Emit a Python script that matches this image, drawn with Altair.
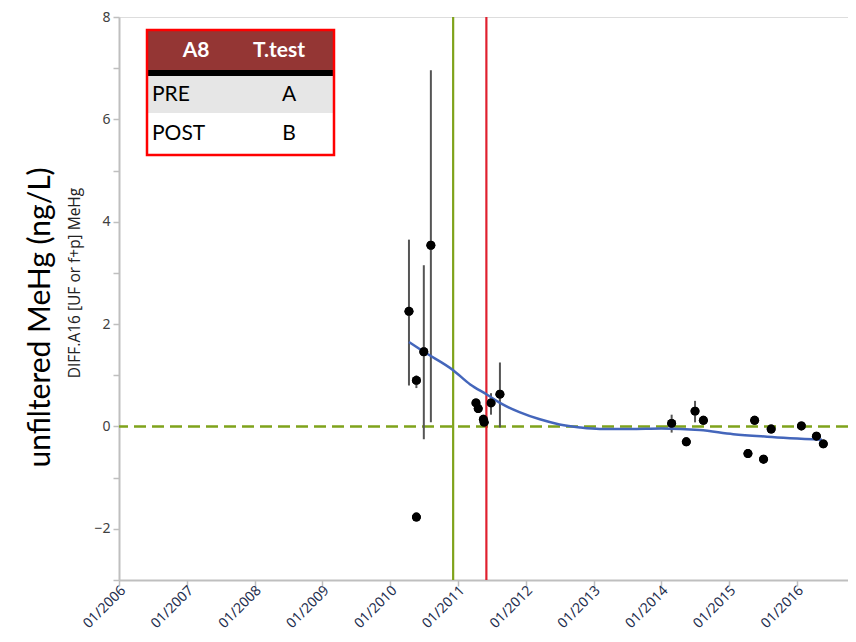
import altair as alt
import pandas as pd

# ---- data ----
pt_dates = ["2010-04-12", "2010-05-22", "2010-05-22", "2010-07-01", "2010-08-08",
            "2011-04-08", "2011-04-20", "2011-05-18", "2011-05-22", "2011-06-28",
            "2011-08-15", "2014-02-25", "2014-05-15", "2014-07-01", "2014-08-15",
            "2015-04-12", "2015-05-18", "2015-07-05", "2015-08-15", "2016-01-25",
            "2016-04-15", "2016-05-22"]
pt_values = [2.25, 0.90, -1.77, 1.46, 3.54,
             0.46, 0.35, 0.14, 0.08, 0.46,
             0.63, 0.06, -0.30, 0.30, 0.12,
             -0.53, 0.12, -0.64, -0.05, 0.01,
             -0.19, -0.34]

err_dates = ["2010-04-12", "2010-05-22", "2010-07-01", "2010-08-08",
             "2011-06-28", "2011-08-15", "2014-02-25", "2014-07-01"]
err_low = [0.80, 0.75, -0.25, 0.08, 0.23, -0.02, -0.12, 0.08]
err_high = [3.65, 1.00, 3.15, 6.96, 0.65, 1.25, 0.23, 0.50]

fit_dates = ["2010-04-12", "2010-07-01", "2010-12-06", "2011-03-08", "2011-06-07",
             "2011-08-15", "2011-11-28", "2012-03-17", "2012-07-01", "2012-10-19",
             "2013-02-03", "2013-07-16", "2014-01-01", "2014-07-27", "2015-01-23",
             "2015-07-24", "2016-05-15"]
fit_values = [1.65, 1.46, 1.10, 0.82, 0.62,
              0.46, 0.28, 0.14, 0.04, -0.02,
              -0.05, -0.05, -0.04, -0.07, -0.15,
              -0.20, -0.26]

vline_dates = ["2010-12-06", "2011-06-03"]
vline_colors = ["#7fa31b", "#e0202f"]

x_tick_years = list(range(2006, 2017))
y_tick_values = list(range(-3, 9))

table_header = ["A8", "T.test"]
table_rows = [["PRE", "A"], ["POST", "B"]]

y_title = "unfiltered MeHg (ng/L)"
y_subtitle = "DIFF.A16 [UF or f+p] MeHg"

# ---- frames ----
pts = pd.DataFrame({"date": pt_dates, "value": pt_values})
errs = pd.DataFrame({"date": err_dates, "lo": err_low, "hi": err_high})
fit = pd.DataFrame({"date": fit_dates, "value": fit_values})
vl = pd.DataFrame({"date": vline_dates, "color": vline_colors})
one = pd.DataFrame({"k": [0]})

TOP = 9
W, H = 729, 563

xscale = alt.Scale(domain=[alt.DateTime(year=2006, month=1, date=1),
                           alt.DateTime(year=2016, month=10, date=2)])
yscale = alt.Scale(domain=[-3, 8], nice=False, zero=False)

xenc = alt.X(
    "date:T", scale=xscale, title=None,
    axis=alt.Axis(
        values=[alt.DateTime(year=y, month=1, date=1) for y in x_tick_years],
        format="%m/%Y", labelAngle=315, labelAlign="right", labelBaseline="middle",
        labelFont="Noto Sans", labelFontSize=14, labelColor="#1f2f4f",
        labelPadding=2, labelOffset=4, grid=False, domainColor="#bfbfbf", domainWidth=2,
        tickColor="#bfbfbf", tickSize=6, tickWidth=1.5, labelOverlap=False,
    ),
)
yaxis = alt.Axis(
    values=y_tick_values,
    labelExpr="datum.value % 2 == 0 ? datum.label : ''",
    labelFont="Noto Sans", labelFontSize=14, labelColor="#404040",
    grid=False, domainColor="#bfbfbf", domainWidth=2,
    tickColor="#bfbfbf", tickSize=6, tickWidth=1.5, labelPadding=3,
    title=y_title, titleFont="Lato", titleFontSize=30, titleFontWeight="normal",
    titleColor="#000000", titleX=-79, titleY=300, titleAngle=270,
    titleAlign="center", titleBaseline="middle",
)

base_pts = alt.Chart(pts).mark_circle(size=80, color="#000000", opacity=1).encode(
    x=xenc, y=alt.Y("value:Q", scale=yscale, axis=yaxis)
)

zero_line = alt.Chart(one).mark_rule(color="#7fa31b", strokeWidth=2.5, strokeDash=[12, 6]).encode(
    y=alt.datum(0)
)

vlines = alt.Chart(vl).mark_rule(strokeWidth=2.2).encode(
    x="date:T", color=alt.Color("color:N", scale=None)
)

err_rules = alt.Chart(errs).mark_rule(color="#555555", strokeWidth=2).encode(
    x="date:T", y="lo:Q", y2="hi:Q"
)

fit_line = alt.Chart(fit).mark_line(color="#4466bb", strokeWidth=2.5, interpolate="monotone").encode(
    x="date:T", y="value:Q"
)

subtitle = alt.Chart(one).mark_text(
    text=y_subtitle, angle=270, font="Open Sans", fontSize=15.5, color="#222222",
    align="center", baseline="middle"
).encode(x=alt.value(-44), y=alt.value(283 - 8 - TOP))

# ---- table annotation ----
tx0, tx1, ty0 = 28, 215, 22 - TOP
hdr = alt.Chart(one).mark_rect(color="#943634").encode(
    x=alt.value(tx0), x2=alt.value(tx1), y=alt.value(ty0), y2=alt.value(ty0 + 40))
band = alt.Chart(one).mark_rect(color="#000000").encode(
    x=alt.value(tx0), x2=alt.value(tx1), y=alt.value(ty0 + 40), y2=alt.value(ty0 + 46))
row1 = alt.Chart(one).mark_rect(color="#e6e6e6").encode(
    x=alt.value(tx0), x2=alt.value(tx1), y=alt.value(ty0 + 46), y2=alt.value(ty0 + 83))
row2 = alt.Chart(one).mark_rect(color="#ffffff").encode(
    x=alt.value(tx0), x2=alt.value(tx1), y=alt.value(ty0 + 83), y2=alt.value(ty0 + 125))
border = alt.Chart(one).mark_rect(fill=None, stroke="#ff0000", strokeWidth=2.5, filled=False).encode(
    x=alt.value(tx0), x2=alt.value(tx1), y=alt.value(ty0), y2=alt.value(ty0 + 125))

texts = []
for txt, xx in zip(table_header, [77, 160]):
    texts.append(alt.Chart(one).mark_text(
        text=txt, font="Lato", fontSize=21, fontWeight="bold", color="#ffffff",
        align="center", baseline="middle").encode(x=alt.value(xx), y=alt.value(ty0 + 21)))
for (lab, val), yy in zip(table_rows, [ty0 + 65, ty0 + 104]):
    texts.append(alt.Chart(one).mark_text(
        text=lab, font="Lato", fontSize=21, color="#000000",
        align="left", baseline="middle").encode(x=alt.value(33), y=alt.value(yy)))
    texts.append(alt.Chart(one).mark_text(
        text=val, font="Lato", fontSize=21, color="#000000",
        align="center", baseline="middle").encode(x=alt.value(170), y=alt.value(yy)))

chart = alt.layer(
    base_pts, zero_line, err_rules, vlines, fit_line,
    alt.Chart(pts).mark_circle(size=80, color="#000000", opacity=1).encode(x="date:T", y="value:Q"),
    subtitle, hdr, band, row1, row2, *texts, border,
).properties(
    width=W, height=H,
    autosize=alt.AutoSizeParams(type="none"),
    padding={"left": 111, "top": TOP, "right": 0, "bottom": 62},
).configure_view(strokeWidth=0).configure(background="#ffffff")

chart.save("out.html", embed_options={"renderer": "svg", "actions": False})
